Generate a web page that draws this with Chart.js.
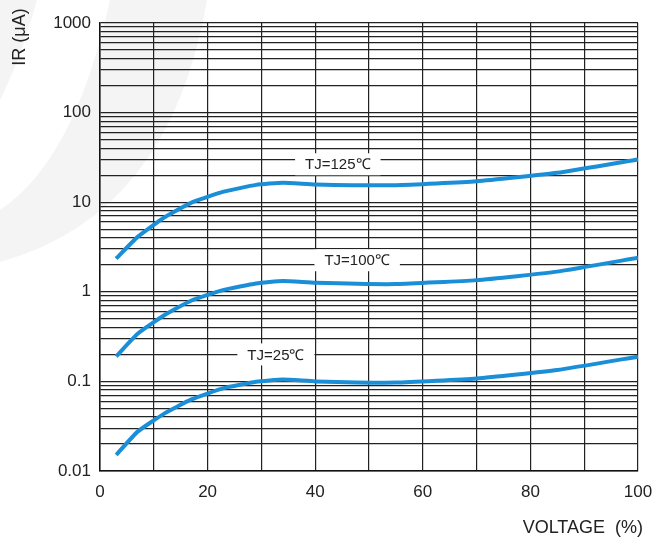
<!DOCTYPE html>
<html>
<head>
<meta charset="utf-8">
<script src="https://cdn.jsdelivr.net/npm/chart.js@4.4.1/dist/chart.umd.min.js"></script>
<style>
  html, body { margin: 0; padding: 0; background: #fff; }
  canvas { display: block; }
</style>
</head>
<body>
<canvas id="ir-chart" width="670" height="539"></canvas>
<script>
// values
var voltage = [3, 7, 12, 17, 23, 29, 34, 40, 55, 70, 85, 100];
var ir125 = [2.35, 4.1, 6.8, 9.9, 13.1, 15.6, 16.5, 15.8, 15.5, 17.1, 21.3, 30];
var ir100 = [0.19, 0.34, 0.55, 0.8, 1.05, 1.24, 1.32, 1.26, 1.22, 1.35, 1.68, 2.4];
var ir25 = [0.0151, 0.0275, 0.044, 0.063, 0.084, 0.099, 0.105, 0.1, 0.097, 0.108, 0.134, 0.189];

var xTicks = [0, 10, 20, 30, 40, 50, 60, 70, 80, 90, 100];
var xTickLabels = ['0', '20', '40', '60', '80', '100'];
var yDecades = [0.01, 0.1, 1, 10, 100, 1000];
var yTickLabels = ['0.01', '0.1', '1', '10', '100', '1000'];

// curve labels, anchored in data space (voltage, IR)
var curveLabels = ['TJ=125\u2103', 'TJ=100\u2103', 'TJ=25\u2103'];
var labelX = [44.2, 47.8, 32.7];
var labelY = [26.5, 2.25, 0.2];

var lineColor = '#1a8fd8';
var gridColor = '#222';
var font = '"Liberation Sans", Arial, sans-serif';

// every 1..9 line of each decade
var yTicks = [];
yDecades.forEach(function (d, i) {
  if (i == yDecades.length - 1) { yTicks.push(d); return; }
  for (var k = 1; k < 10; k++) yTicks.push(+(d * k).toPrecision(3));
});

var pageDeco = {
  id: 'pageDeco',
  beforeDraw: function (chart) {
    var c = chart.ctx;
    c.save();
    c.fillStyle = '#fff';
    c.fillRect(0, 0, chart.width, chart.height);
    // faint watermark swoosh
    c.fillStyle = '#f4f4f4';
    c.beginPath();
    c.moveTo(0, 262);
    c.quadraticCurveTo(170, 215, 207, 0);
    c.lineTo(110, 0);
    c.quadraticCurveTo(75, 160, 0, 210);
    c.closePath();
    c.fill();
    c.beginPath();
    c.moveTo(0, 0);
    c.lineTo(37, 0);
    c.quadraticCurveTo(20, 60, 0, 100);
    c.closePath();
    c.fill();
    c.restore();
  },
  afterDraw: function (chart) {
    var c = chart.ctx;
    var xs = chart.scales.x, ys = chart.scales.y;
    c.save();
    c.font = '15px ' + font;
    c.textBaseline = 'middle';
    c.textAlign = 'center';
    curveLabels.forEach(function (t, i) {
      var px = xs.getPixelForValue(labelX[i]);
      var py = ys.getPixelForValue(labelY[i]);
      var w = c.measureText(t).width + 20;
      c.fillStyle = '#fff';
      c.fillRect(px - w / 2, py - 11, w, 22);
      c.fillStyle = '#222';
      c.fillText(t, px, py + 1);
    });
    // axis titles
    c.font = '18px ' + font;
    c.fillStyle = '#222';
    c.textAlign = 'right';
    c.fillText('VOLTAGE  (%)', 643, 528);
    c.translate(20, 37);
    c.rotate(-Math.PI / 2);
    c.textAlign = 'center';
    c.fillText('IR (\u03bcA)', 0, 0);
    c.restore();
  }
};

var ctx = document.getElementById('ir-chart').getContext('2d');

var chartData = {
  datasets: [
    { label: curveLabels[0], data: voltage.map(function (v, i) { return { x: v, y: ir125[i] }; }) },
    { label: curveLabels[1], data: voltage.map(function (v, i) { return { x: v, y: ir100[i] }; }) },
    { label: curveLabels[2], data: voltage.map(function (v, i) { return { x: v, y: ir25[i] }; }) }
  ]
};
chartData.datasets.forEach(function (ds) {
  ds.borderColor = lineColor;
  ds.borderWidth = 4;
  ds.pointRadius = 0;
  ds.tension = 0.15;
  ds.fill = false;
});

var myChart = new Chart(ctx, {
  type: 'line',
  data: chartData,
  options: {
    responsive: false,
    animation: false,
    devicePixelRatio: 1,
    layout: { padding: { top: 23, right: 32, left: 0, bottom: 0 } },
    plugins: { legend: { display: false }, tooltip: { enabled: false } },
    scales: {
      x: {
        type: 'linear',
        min: 0,
        max: 100,
        afterFit: function (s) { s.height = 68; },
        afterBuildTicks: function (s) { s.ticks = xTicks.map(function (v) { return { value: v }; }); },
        grid: { color: gridColor, lineWidth: 1.2, drawTicks: false },
        border: { color: '#111', width: 1.5 },
        ticks: {
          padding: 11,
          color: '#222',
          font: { family: font, size: 17 },
          callback: function (v) { return xTickLabels.indexOf(String(v)) >= 0 ? String(v) : ''; }
        }
      },
      y: {
        type: 'logarithmic',
        min: 0.01,
        max: 1000,
        afterFit: function (s) { s.width = 100; },
        afterBuildTicks: function (s) { s.ticks = yTicks.map(function (v) { return { value: v }; }); },
        grid: { color: gridColor, lineWidth: 1.2, drawTicks: false },
        border: { color: '#111', width: 1.5 },
        ticks: {
          padding: 9,
          autoSkip: false,
          color: '#222',
          font: { family: font, size: 17 },
          callback: function (v) {
            var i = yDecades.indexOf(v);
            return i >= 0 ? yTickLabels[i] : '';
          }
        }
      }
    }
  },
  plugins: [pageDeco]
});
</script>
</body>
</html>
